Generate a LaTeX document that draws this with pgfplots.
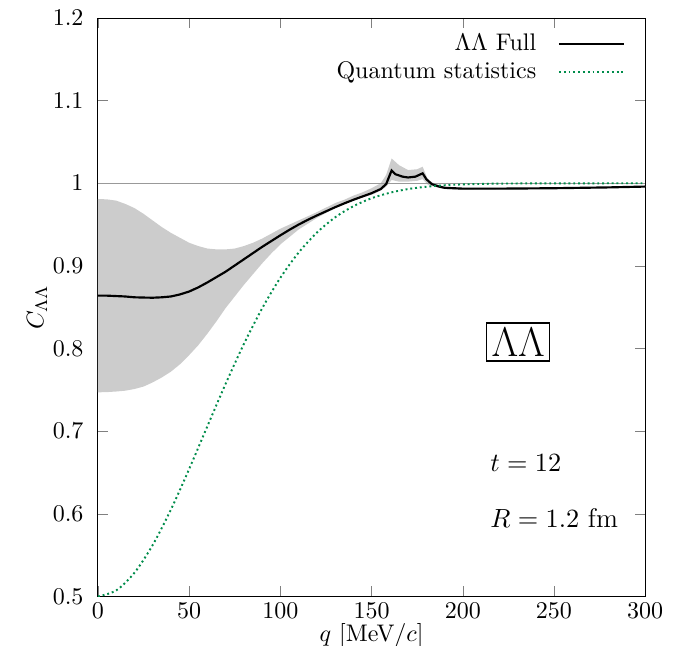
\documentclass[border=0pt]{standalone}
\usepackage{pgfplots}
\pgfplotsset{compat=1.18}
\definecolor{qsgreen}{RGB}{0,140,75}
\begin{document}
\begin{tikzpicture}
\begin{axis}[
  name=ax,
  scale only axis,
  width=228pt, height=241pt,
  xmin=0, xmax=300, ymin=0.5, ymax=1.2,
  xtick={0,50,100,150,200,250,300},
  ytick={0.5,0.6,0.7,0.8,0.9,1,1.1,1.2},
  yticklabel style={xshift=-2.5pt},
  xticklabel style={yshift=1pt},
  xlabel={$q$ [MeV$/c$]},
  ylabel={$C_{\Lambda\Lambda}$},
  xlabel style={yshift=4.5pt},
  ylabel style={yshift=-4.5pt},
  legend plot pos=right,
  legend cell align=right,
  legend style={at={(rel axis cs:0.977,0.99)}, anchor=north east, draw=none, fill=none, row sep=-0.8pt, column sep=7pt},
  legend image code/.code={\draw[#1] (0cm,0cm) -- (0.95cm,0cm);},
]
% uncertainty band: lower edge forward, upper edge backward
\addplot[fill=black!20, draw=none, forget plot] coordinates {
(0,0.747)(5,0.7473)(10,0.748)(15,0.749)(20,0.751)(25,0.754)(30,0.759)(35,0.765)(40,0.772)(45,0.781)(50,0.792)(55,0.804)(60,0.818)(65,0.833)(70,0.849)(75,0.863)(80,0.877)(85,0.890)(90,0.903)(95,0.915)(100,0.926)(105,0.935)(110,0.944)(115,0.951)(120,0.958)(125,0.964)(130,0.970)(135,0.975)(140,0.979)(145,0.983)(150,0.986)(155,0.991)(158,0.996)(161,1.004)(165,1.002)(170,1.002)(175,1.003)(178,1.005)(181,0.998)(185,0.9955)(190,0.993)(200,0.992)(220,0.9925)(250,0.9935)(280,0.9945)(300,0.9955)
(300,0.9965)(280,0.9955)(250,0.9945)(220,0.9945)(200,0.9945)(190,0.996)(185,0.999)(181,1.004)(178,1.020)(175,1.017)(170,1.016)(165,1.022)(161,1.030)(158,1.010)(155,1.000)(150,0.994)(145,0.989)(140,0.985)(135,0.980)(130,0.976)(125,0.9705)(120,0.965)(115,0.960)(110,0.955)(105,0.950)(100,0.945)(95,0.939)(90,0.933)(85,0.928)(80,0.924)(75,0.921)(70,0.920)(65,0.920)(60,0.921)(55,0.924)(50,0.928)(45,0.934)(40,0.940)(35,0.947)(30,0.955)(25,0.963)(20,0.970)(15,0.975)(10,0.979)(5,0.9805)(0,0.981)
};
\addplot[black!40, line width=0.5pt, forget plot] coordinates {(0,1) (300,1)};
\addplot[black, line width=0.9pt] coordinates {
(0,0.864)(5,0.864)(10,0.8635)(15,0.863)(20,0.862)(25,0.8617)(30,0.8615)(35,0.862)(40,0.863)(45,0.8655)(50,0.869)(55,0.874)(60,0.880)(65,0.8865)(70,0.893)(75,0.9005)(80,0.908)(85,0.9155)(90,0.923)(95,0.930)(100,0.937)(105,0.9437)(110,0.950)(115,0.9557)(120,0.961)(125,0.966)(130,0.971)(135,0.9756)(140,0.980)(145,0.984)(150,0.988)(155,0.993)(158,0.999)(161,1.0155)(163,1.011)(167,1.008)(170,1.007)(174,1.008)(178,1.012)(180,1.005)(183,0.999)(187,0.996)(190,0.9945)(200,0.9935)(220,0.9935)(250,0.994)(280,0.995)(300,0.996)
};
\addlegendentry{$\Lambda\Lambda$ Full}
\addplot[qsgreen, line width=0.8pt, dash pattern=on 0.8pt off 1.2pt, smooth] coordinates {
(0,0.5)(10,0.5073)(20,0.5286)(30,0.5622)(40,0.6051)(50,0.6542)(60,0.7060)(70,0.7573)(80,0.8055)(90,0.8486)(100,0.8856)(110,0.9161)(120,0.9402)(130,0.9587)(140,0.9722)(150,0.9819)(160,0.9885)(170,0.9930)(180,0.9958)(190,0.9976)(200,0.9986)(220,0.9996)(250,0.9999)(300,1.0)
};
\addlegendentry{Quantum statistics}
\node[draw, line width=0.5pt, inner sep=2pt] at (axis cs:230.4,0.808) {\fontsize{15.9}{18}\selectfont $\Lambda\Lambda$};
\node[anchor=west] at (axis cs:210.5,0.662) {\fontsize{11.2}{13}\selectfont $t=12$};
\node[anchor=west] at (axis cs:210.5,0.595) {\fontsize{11.2}{13}\selectfont $R=1.2$ fm};
\end{axis}
\path (ax.south west) ++(-40.8pt,-20.4pt) coordinate (bbA);
\path (ax.north east) ++(22pt,7.5pt) coordinate (bbB);
\pgfresetboundingbox
\path[use as bounding box] (bbA) rectangle (bbB);
\end{tikzpicture}
\end{document}
